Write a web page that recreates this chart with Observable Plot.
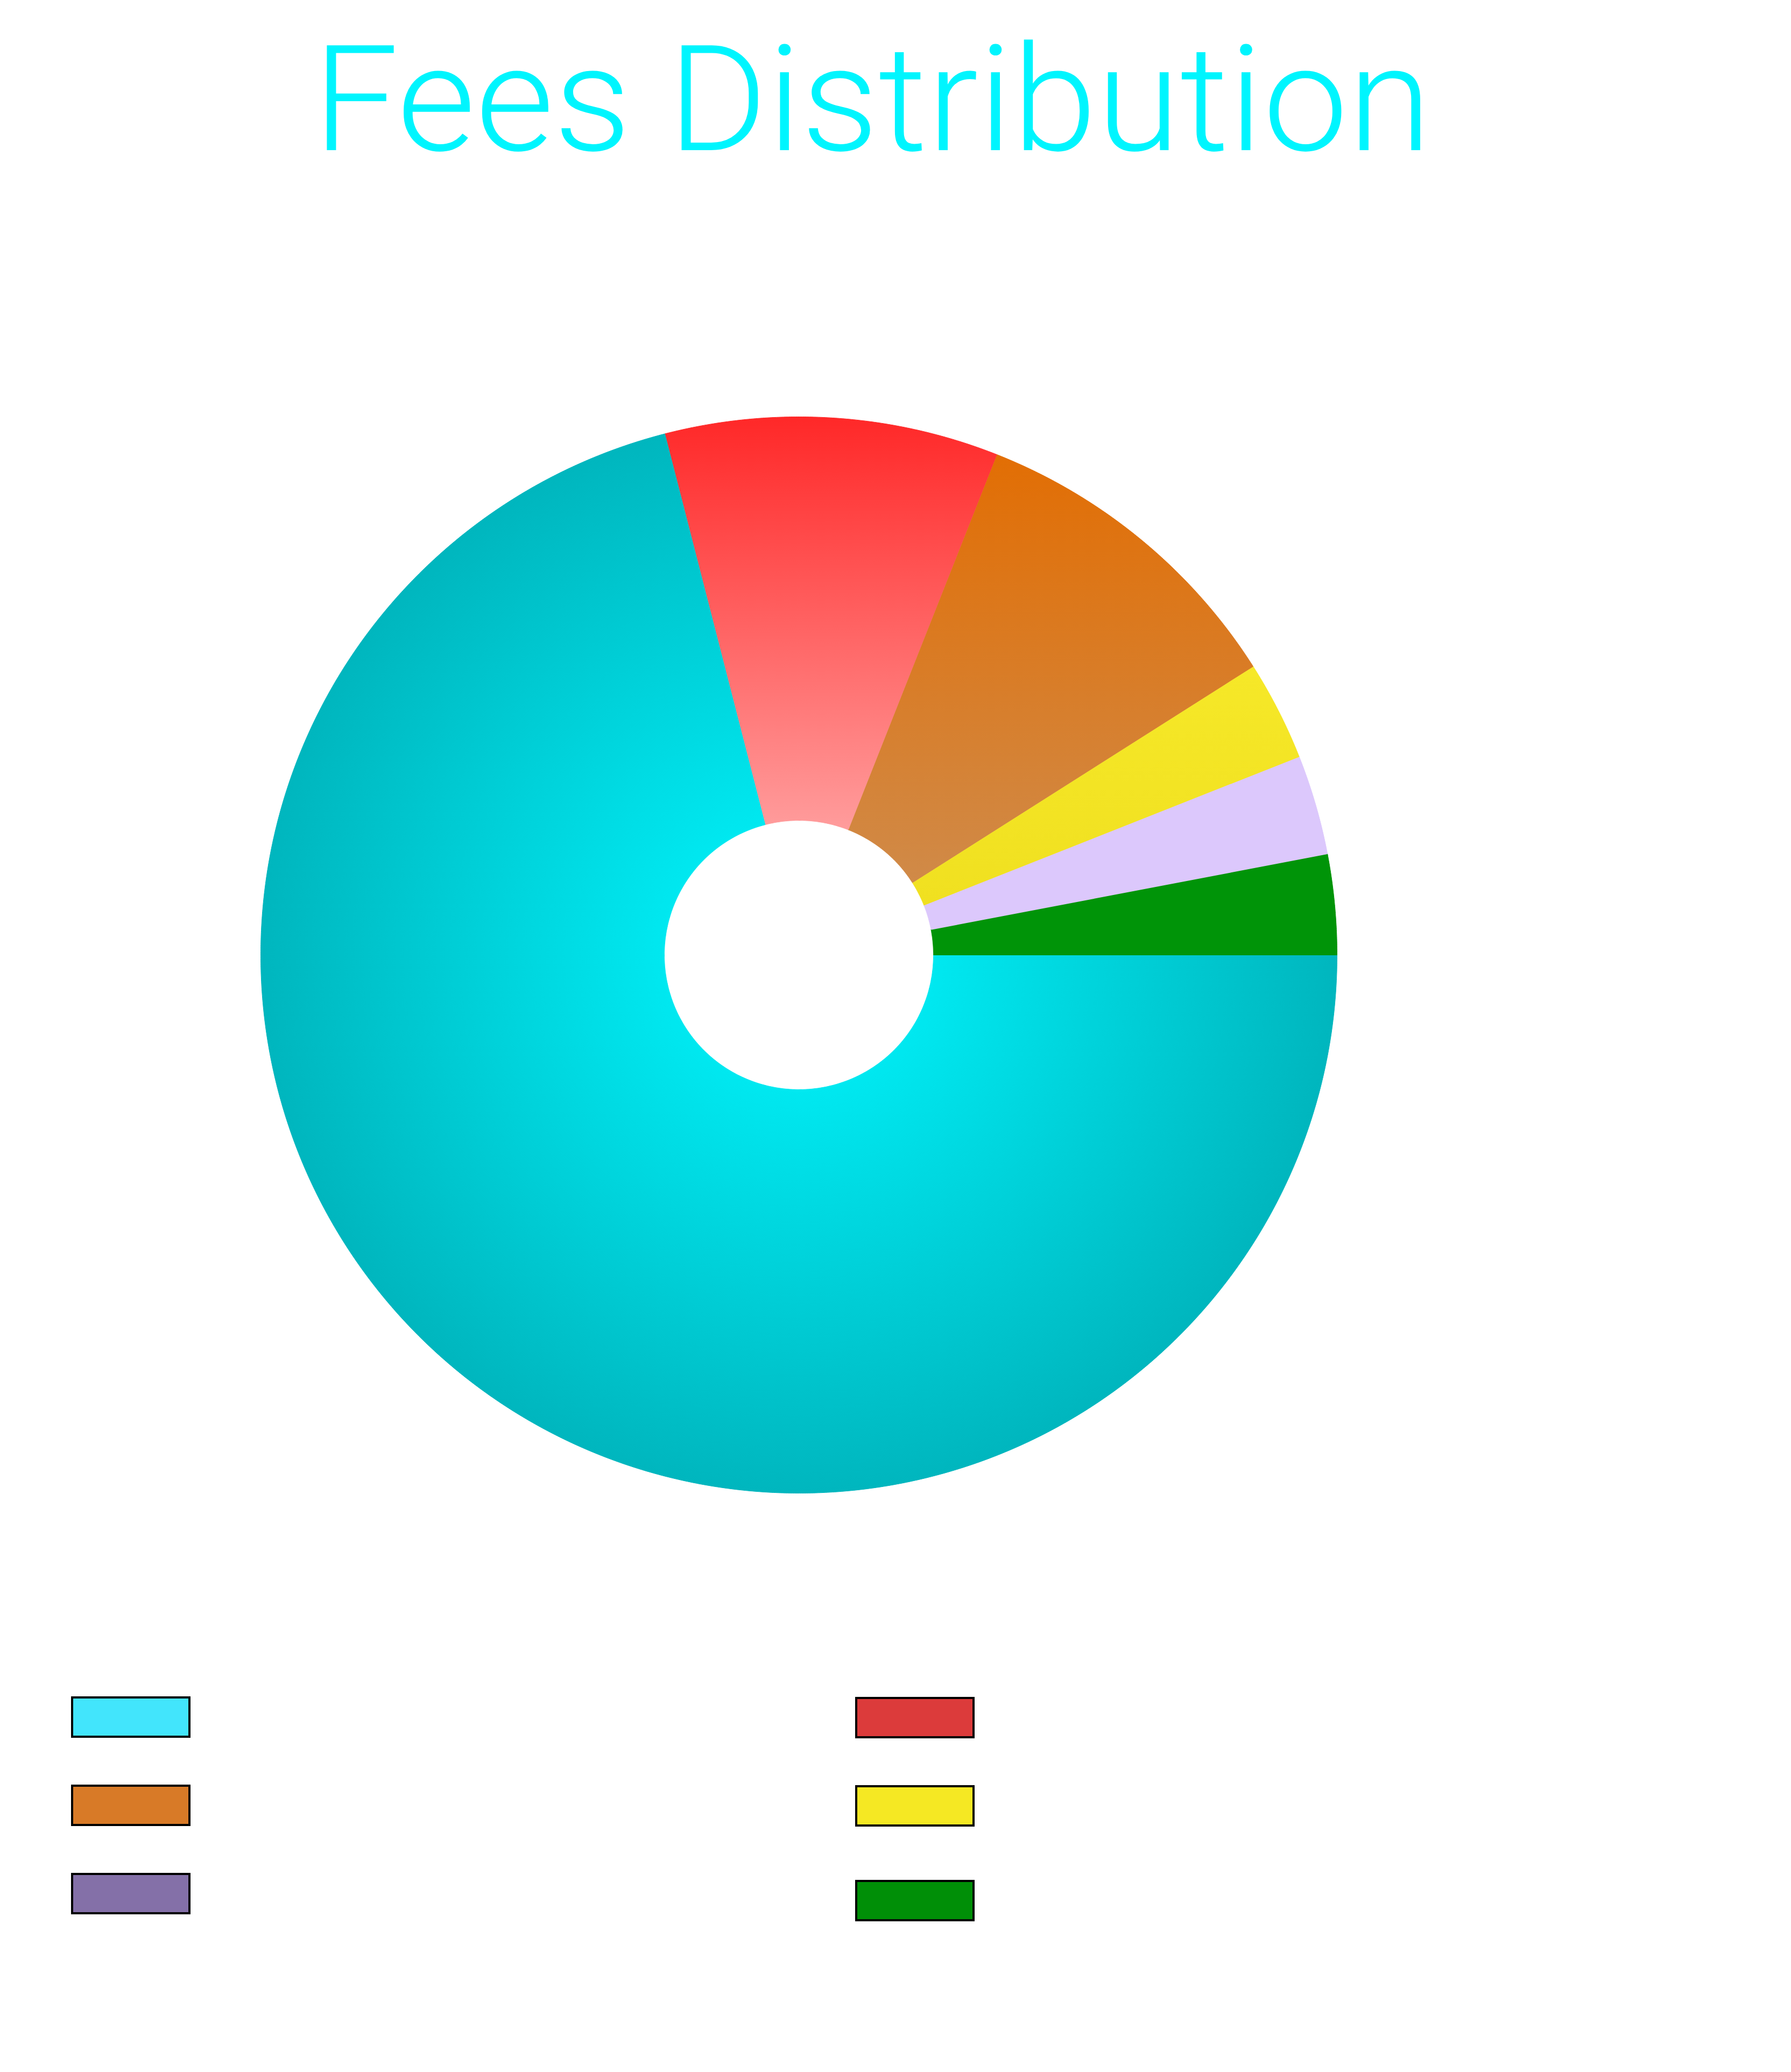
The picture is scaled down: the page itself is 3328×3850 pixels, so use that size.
<!DOCTYPE html>
<html>
<head>
<meta charset="utf-8">
<script src="https://cdn.jsdelivr.net/npm/d3@7"></script>
<script src="https://cdn.jsdelivr.net/npm/@observablehq/plot@0.6"></script>
<style>
  html, body { margin: 0; padding: 0; background: #ffffff; }
  #page { position: relative; width: 3328px; height: 3850px; overflow: hidden; background: #fff; }
  #title { position: absolute; left: 0; top: 0; }
  #chart { position: absolute; left: 0; top: 500px; }
  .sw { position: absolute; width: 222px; height: 77px; border: 4px solid #000; box-sizing: border-box; }
</style>
</head>
<body>
<div id="page"></div>
<script>
// ---- data ----
const titleText = "Fees Distribution";
const categories = ["Category A", "Category B", "Category C", "Category D", "Category E", "Category F"];
const values = [71, 10, 10, 3, 3, 3];
const legendColors = ["#42e5fc", "#dc3b3b", "#d87a27", "#f5e823", "#8470a8", "#008f07"];

const page = document.getElementById("page");

// ---- title ----
const NS = "http://www.w3.org/2000/svg";
const tsvg = document.createElementNS(NS, "svg");
tsvg.setAttribute("id", "title");
tsvg.setAttribute("width", 3328);
tsvg.setAttribute("height", 400);
const tt = document.createElementNS(NS, "text");
tt.setAttribute("x", 582);
tt.setAttribute("y", 279);
tt.setAttribute("font-family", "Roboto, 'Open Sans', sans-serif");
tt.setAttribute("font-weight", "300");
tt.setAttribute("font-size", "274");
tt.setAttribute("fill", "#00f5fe");
tt.setAttribute("textLength", "2078");
tt.setAttribute("lengthAdjust", "spacingAndGlyphs");
tt.textContent = titleText;
tsvg.appendChild(tt);
page.appendChild(tsvg);

// ---- pie geometry from data ----
const R = 1, r0 = 0.25;
const arcs = d3.pie().sort(null).startAngle(Math.PI / 2).endAngle(Math.PI / 2 + 2 * Math.PI)(values);
function ring(a0, a1) {
  const pts = [];
  const n = Math.max(8, Math.ceil((a1 - a0) / (Math.PI / 720)));
  for (let i = 0; i <= n; i++) {
    const a = a0 + (a1 - a0) * i / n;
    pts.push({x: R * Math.sin(a), y: R * Math.cos(a)});
  }
  for (let i = n; i >= 0; i--) {
    const a = a0 + (a1 - a0) * i / n;
    pts.push({x: r0 * Math.sin(a), y: r0 * Math.cos(a)});
  }
  return pts;
}

const marks = arcs.map((a, i) => Plot.line(ring(a.startAngle, a.endAngle), {
  x: "x", y: "y", curve: "linear",
  fill: `url(#slice${i})`, stroke: `url(#slice${i})`, strokeWidth: 1
}));

const chart = Plot.plot({
  width: 3328,
  height: 2500,
  margin: 0,
  x: {domain: [-1, 1], range: [484, 2484], axis: null},
  y: {domain: [-1, 1], range: [2274, 274], axis: null},
  marks
});
chart.setAttribute("id", "chart");

// gradients
const sx = chart.scale("x"), sy = chart.scale("y");
const cx = sx.apply(0), cy = sy.apply(0), rad = sx.apply(1) - sx.apply(0);
const defs = d3.select(chart).insert("defs", ":first-child");

const g0 = defs.append("radialGradient").attr("id", "slice0")
  .attr("gradientUnits", "userSpaceOnUse").attr("cx", cx).attr("cy", cy).attr("r", rad);
g0.append("stop").attr("offset", 0).attr("stop-color", "#00ecf4");
g0.append("stop").attr("offset", 0.25).attr("stop-color", "#00e8f0");
g0.append("stop").attr("offset", 1).attr("stop-color", "#00b6be");

function vgrad(id, c0, c1) {
  const g = defs.append("linearGradient").attr("id", id)
    .attr("x1", 0).attr("y1", 0).attr("x2", 0).attr("y2", 1);
  g.append("stop").attr("offset", 0).attr("stop-color", c0);
  g.append("stop").attr("offset", 1).attr("stop-color", c1);
}
vgrad("slice1", "#ff2828", "#ff9c9c");
vgrad("slice2", "#e26e04", "#d08a48");
vgrad("slice3", "#f6e828", "#f0e020");
vgrad("slice4", "#dcc8fc", "#dcc8fc");
vgrad("slice5", "#009408", "#009408");

page.appendChild(chart);

// ---- legend swatches ----
const legendPos = [
  {left: 132, top: 3152}, {left: 1589, top: 3153},
  {left: 132, top: 3316}, {left: 1589, top: 3317},
  {left: 132, top: 3480}, {left: 1589, top: 3493}
];
categories.forEach((c, i) => {
  const d = document.createElement("div");
  d.className = "sw";
  d.style.left = legendPos[i].left + "px";
  d.style.top = legendPos[i].top + "px";
  d.style.background = legendColors[i];
  d.title = c;
  page.appendChild(d);
});
</script>
</body>
</html>
